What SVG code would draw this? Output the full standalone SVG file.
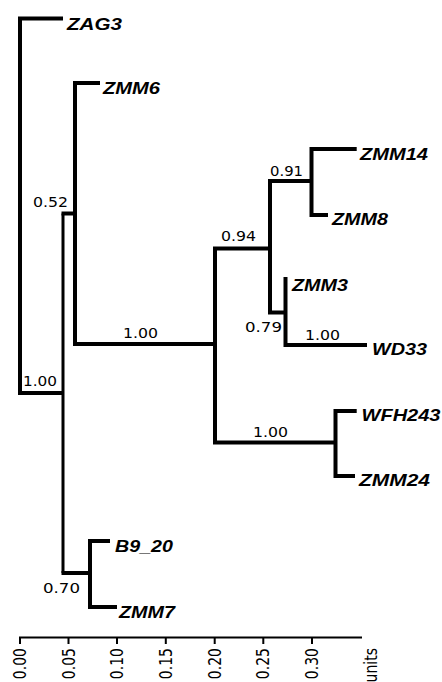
<svg xmlns="http://www.w3.org/2000/svg" width="442" height="682" viewBox="0 0 442 682">
<style>
.br{fill:none;stroke:#000;stroke-width:4;stroke-linejoin:miter;stroke-linecap:butt}
.thin{stroke-width:3}
.ax{fill:none;stroke:#000;stroke-width:2}
.leaf{font-family:"Liberation Sans",Arial,sans-serif;font-weight:bold;font-style:italic;font-size:17px;fill:#000}
.sup{font-family:"DejaVu Sans",sans-serif;font-size:14px;fill:#000}
.tick{font-family:"DejaVu Sans",sans-serif;font-size:14px;fill:#000}
</style>
<rect width="442" height="682" fill="#fff"/>
<g id="connectors">
<path class="br" d="M63,18.5 H20 V393 H63"/>
<path class="br thin" d="M63,213.5 V573"/>
<path class="br" d="M61.5,213.5 H75"/>
<path class="br" d="M61.5,573 H90"/>
<path class="br" d="M100,83 H75 V344 H215"/>
<path class="br" d="M110,541 H90 V607 H117"/>
<path class="br" d="M270,248.5 H215 V442.5 H335.5"/>
<path class="br" d="M311.5,181 H270 V312.5 H285.5"/>
<path class="br" d="M356.7,149 H311.5 V215 H328"/>
<path class="br" d="M285.5,277 V345 H367"/>
<path class="br" d="M356.7,411 H335.5 V476 H355"/>
</g>
<g id="leaf-ZAG3"><text class="leaf" x="67" y="29.5" textLength="55" lengthAdjust="spacingAndGlyphs">ZAG3</text></g>
<g id="leaf-ZMM6"><text class="leaf" x="103" y="94" textLength="57" lengthAdjust="spacingAndGlyphs">ZMM6</text></g>
<g id="leaf-ZMM14"><text class="leaf" x="360" y="159.5" textLength="68" lengthAdjust="spacingAndGlyphs">ZMM14</text></g>
<g id="leaf-ZMM8"><text class="leaf" x="332" y="225" textLength="56" lengthAdjust="spacingAndGlyphs">ZMM8</text></g>
<g id="leaf-ZMM3"><text class="leaf" x="292" y="290.5" textLength="56" lengthAdjust="spacingAndGlyphs">ZMM3</text></g>
<g id="leaf-WD33"><text class="leaf" x="372" y="355" textLength="55" lengthAdjust="spacingAndGlyphs">WD33</text></g>
<g id="leaf-WFH243"><text class="leaf" x="361.5" y="420.5" textLength="79" lengthAdjust="spacingAndGlyphs">WFH243</text></g>
<g id="leaf-ZMM24"><text class="leaf" x="359" y="486" textLength="71" lengthAdjust="spacingAndGlyphs">ZMM24</text></g>
<g id="leaf-B9_20"><text class="leaf" x="115" y="552" textLength="58" lengthAdjust="spacingAndGlyphs">B9_20</text></g>
<g id="leaf-ZMM7"><text class="leaf" x="119" y="618" textLength="56" lengthAdjust="spacingAndGlyphs">ZMM7</text></g>
<g id="node-root"><text class="sup" x="23" y="386" textLength="34" lengthAdjust="spacingAndGlyphs">1.00</text></g>
<g id="node-052"><text class="sup" x="33" y="206.5" textLength="35" lengthAdjust="spacingAndGlyphs">0.52</text></g>
<g id="node-070"><text class="sup" x="43" y="593" textLength="37" lengthAdjust="spacingAndGlyphs">0.70</text></g>
<g id="node-100a"><text class="sup" x="123" y="338" textLength="35" lengthAdjust="spacingAndGlyphs">1.00</text></g>
<g id="node-094"><text class="sup" x="221" y="240.5" textLength="35" lengthAdjust="spacingAndGlyphs">0.94</text></g>
<g id="node-091"><text class="sup" x="270" y="176" textLength="33" lengthAdjust="spacingAndGlyphs">0.91</text></g>
<g id="node-079"><text class="sup" x="245" y="332" textLength="37" lengthAdjust="spacingAndGlyphs">0.79</text></g>
<g id="node-100b"><text class="sup" x="305" y="340" textLength="35" lengthAdjust="spacingAndGlyphs">1.00</text></g>
<g id="node-100c"><text class="sup" x="253" y="436.5" textLength="35" lengthAdjust="spacingAndGlyphs">1.00</text></g>
<g id="axis">
<path class="ax" d="M19,637.5 H362 M20,637 V644 M68.5,637 V644 M117,637 V644 M165.8,637 V644 M214.7,637 V644 M263.3,637 V644 M312,637 V644"/>
<text class="tick" text-anchor="end" transform="translate(26,648) scale(1.2,1) rotate(-90)">0.00</text>
<text class="tick" text-anchor="end" transform="translate(74.5,648) scale(1.2,1) rotate(-90)">0.05</text>
<text class="tick" text-anchor="end" transform="translate(123,648) scale(1.2,1) rotate(-90)">0.10</text>
<text class="tick" text-anchor="end" transform="translate(171.8,648) scale(1.2,1) rotate(-90)">0.15</text>
<text class="tick" text-anchor="end" transform="translate(220.7,648) scale(1.2,1) rotate(-90)">0.20</text>
<text class="tick" text-anchor="end" transform="translate(269.3,648) scale(1.2,1) rotate(-90)">0.25</text>
<text class="tick" text-anchor="end" transform="translate(318,648) scale(1.2,1) rotate(-90)">0.30</text>
<text class="tick" text-anchor="end" transform="translate(376.5,648) scale(1.2,1) rotate(-90)">units</text>
</g>
</svg>
